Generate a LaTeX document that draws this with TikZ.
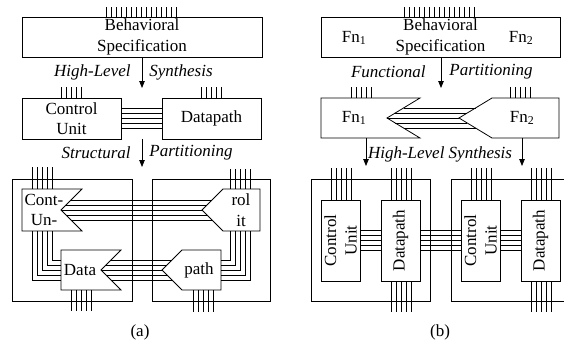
\documentclass[tikz,border=0pt]{standalone}
\usepackage{fontspec}
\setmainfont{Liberation Serif}
\usetikzlibrary{arrows.meta}
\begin{document}
\begin{tikzpicture}[x=1pt,y=-1pt,line width=0.8pt,
  box/.style={draw,inner sep=0pt,font=\fontsize{17}{20.5}\selectfont,align=center},
  txt/.style={font=\fontsize{17}{20.5}\selectfont,align=center,inner sep=0pt},
  lbl/.style={font=\fontsize{17}{20.5}\selectfont\itshape,inner sep=0pt},
  flow/.style={-{Triangle[length=7pt,width=5.5pt]}},
  wire/.style={line width=0.8pt}]
\useasboundingbox (0,0) rectangle (564,343);

% ================= (a) =================
\node[box,minimum width=240pt,minimum height=40pt] (behA) at (142,37) {Behavioral\\Specification};
\foreach \i in {0,...,14} \draw[wire] ({106+5*\i},7) -- ({106+5*\i},17);
\coordinate (a1end) at (142,88);
\draw[flow] (behA.south) -- (a1end);
\node[lbl,anchor=east] (hl) at (131,72) {High-Level};
\node[lbl,anchor=west] (sy) at (149,72) {Synthesis};

\node[box,minimum width=99pt,minimum height=41pt] (cuA) at (71.5,118.5) {Control\\Unit};
\node[box,minimum width=99pt,minimum height=41pt] (dpA) at (211.5,118.5) {Datapath};
\foreach \i in {0,...,4} {
  \draw[wire] ({61+5*\i},87) -- ({61+5*\i},98);
  \draw[wire] ({201+5*\i},87) -- ({201+5*\i},98);
  \draw[wire] (cuA.east |- 0,{108+5*\i}) -- (dpA.west |- 0,{108+5*\i});
}
\coordinate (a2end) at (142,167);
\draw[flow] (cuA.south -| behA.south) -- (a2end);
\node[lbl,anchor=east] (st) at (131,153) {Structural};
\node[lbl,anchor=west] (pa) at (149,153) {Partitioning};

% outer boxes
\draw (12,179) rectangle (132,301);
\draw (152,179) rectangle (270,301);

% Cont- / Un- piece
\draw (22,189) -- (82,189) -- (61,210) -- (82,231) -- (22,231) -- cycle;
\node[txt] (cont) at (44,210) {Cont-\\Un-};
% Data piece
\draw (61,250) -- (121,250) -- (101,270) -- (121,290) -- (61,290) -- cycle;
\node[txt] (data) at (80,270) {Data};
% rol / it piece
\draw (202,210) -- (223,189) -- (260,189) -- (260,231) -- (223,231) -- cycle;
\node[txt] (rol) at (241,210) {rol\\it};
% path piece
\draw (162,270) -- (182,250) -- (221,250) -- (221,290) -- (182,290) -- cycle;
\node[txt] (path) at (199,270) {path};

\foreach \i in {0,...,4} {
  \draw[wire] ({32+5*\i},167) -- ({32+5*\i},189);
  \draw[wire] ({230+5*\i},169) -- ({230+5*\i},189);
  \draw[wire] ({71+5*\i},290) -- ({71+5*\i},311);
  \draw[wire] ({193+5*\i},290) -- ({193+5*\i},312);
  \draw[wire] ({52-5*\i},231) |- (61,{260+5*\i});
  \draw[wire] ({230+5*\i},231) |- (221,{260+5*\i});
}
\foreach \d/\y in {10/200,5/205,0/210,5/215,10/220}
  \draw[wire] ({61+\d},\y) -- ({202+\d},\y);
\foreach \d/\y in {10/260,5/265,0/270,5/275,10/280}
  \draw[wire] ({101+\d},\y) -- ({162+\d},\y);

\node[txt] (capA) at (140,332) {(a)};

% ================= (b) =================
\node[box,minimum width=239pt,minimum height=40pt] (behB) at (440.5,37) {Behavioral\\Specification};
\node[txt] (fn1t) at (354,38) {Fn\textsubscript{1}};
\node[txt] (fn2t) at (521,38) {Fn\textsubscript{2}};
\foreach \i in {0,...,14} \draw[wire] ({404+5*\i},7) -- ({404+5*\i},17);
\coordinate (b1end) at (441,88);
\draw[flow] (441,57) -- (b1end);
\node[lbl,anchor=east] (fu) at (426,72) {Functional};
\node[lbl,anchor=west] (pb) at (449,72) {Partitioning};

% Fn1 / Fn2 pieces
\draw (321,98) -- (420,98) -- (387,118) -- (420,138) -- (321,138) -- cycle;
\node[txt] (fn1) at (354,118) {Fn\textsubscript{1}};
\draw (459,118) -- (492,98) -- (559,98) -- (559,138) -- (492,138) -- cycle;
\node[txt] (fn2) at (522,118) {Fn\textsubscript{2}};
\foreach \i in {0,...,4} {
  \draw[wire] ({351+5*\i},87) -- ({351+5*\i},98);
  \draw[wire] ({510+5*\i},87) -- ({510+5*\i},98);
}
\foreach \d/\y in {10/108,5/113,0/118,5/123,10/128}
  \draw[wire] ({387+1.65*\d},\y) -- ({459+1.65*\d},\y);

\coordinate (b2a) at (366,166);
\coordinate (b2b) at (522,166);
\draw[flow] (366,138) -- (b2a);
\draw[flow] (522,138) -- (b2b);
\node[lbl] (hls) at (440,154) {High-Level Synthesis};

% outer boxes
\draw (311,179) rectangle (430,301);
\draw (564,179) -- (451,179) -- (451,301) -- (564,301);

\node[box,minimum width=39pt,minimum height=81pt] (cu1) at (340.5,240.5) {};
\node[txt,rotate=90] (cu1t) at (cu1) {Control\\Unit};
\node[box,minimum width=39pt,minimum height=81pt] (dp1) at (400.5,240.5) {};
\node[txt,rotate=90] (dp1t) at (dp1) {Datapath};
\node[box,minimum width=39pt,minimum height=81pt] (cu2) at (480.5,240.5) {};
\node[txt,rotate=90] (cu2t) at (cu2) {Control\\Unit};
\node[box,minimum width=39pt,minimum height=81pt] (dp2) at (540.5,240.5) {};
\node[txt,rotate=90] (dp2t) at (dp2) {Datapath};

\foreach \i in {0,...,4} {
  \draw[wire] ({331+5*\i},168) -- ({331+5*\i},200);
  \draw[wire] ({391+5*\i},168) -- ({391+5*\i},200);
  \draw[wire] ({471+5*\i},168) -- ({471+5*\i},200);
  \draw[wire] ({531+5*\i},168) -- ({531+5*\i},200);
  \draw[wire] ({391+5*\i},281) -- ({391+5*\i},312);
  \draw[wire] ({531+5*\i},281) -- ({531+5*\i},312);
  \draw[wire] (cu1.east |- 0,{230+5*\i}) -- (dp1.west |- 0,{230+5*\i});
  \draw[wire] (dp1.east |- 0,{230+5*\i}) -- (cu2.west |- 0,{230+5*\i});
  \draw[wire] (cu2.east |- 0,{230+5*\i}) -- (dp2.west |- 0,{230+5*\i});
}

\node[txt] (capB) at (440,332) {(b)};
\end{tikzpicture}
\end{document}
